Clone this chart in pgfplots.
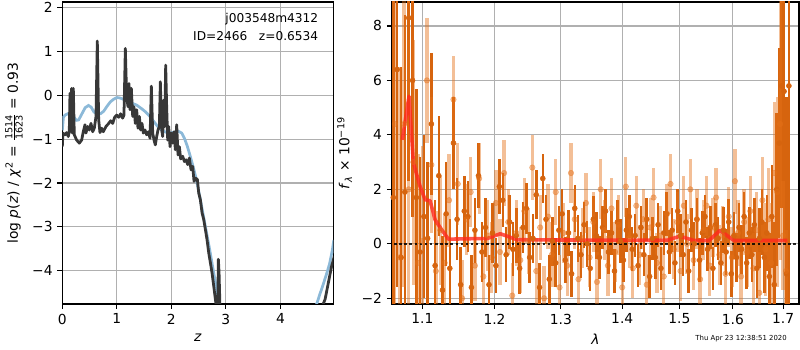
\documentclass[border=0pt]{standalone}
\usepackage{pgfplots}
\usepackage{pgfplotstable}
\usepackage{amsmath}
\usepackage{fontspec}
\setmainfont{DejaVu Sans}
\pgfplotsset{compat=1.18}
\definecolor{gridc}{RGB}{176,176,176}
\definecolor{darko}{RGB}{214,100,14}
\definecolor{lighto}{RGB}{228,112,24}
\definecolor{modelred}{RGB}{255,40,30}
\definecolor{pzblack}{RGB}{55,55,55}
\definecolor{pzblue}{RGB}{140,185,216}

\pgfplotstableread{
x y e
1.062 1.7 7.5
1.067 6.4 8.0
1.072 -0.5 7.0
1.077 1.9 6.5
1.082 8.3 6.0
1.087 6.0 5.0
1.092 1.7 4.0
1.097 -0.3 3.5
1.102 1.0 3.0
1.107 0.2 2.8
1.112 4.4 2.6
1.117 -0.8 2.4
1.122 2.5 2.2
1.127 -1.7 2.0
1.132 1.1 1.9
1.137 -0.9 1.8
1.142 3.7 1.7
1.147 0.9 1.5
1.152 -1.5 1.4
1.157 1.2 1.3
1.162 1.0 1.3
1.167 -1.6 1.2
1.172 0.5 1.2
1.177 2.5 1.2
1.182 -0.3 1.1
1.187 0.6 1.1
1.192 -1.5 1.1
1.197 0.4 1.1
1.202 -0.8 1.0
1.207 2.1 1.0
1.212 1.6 1.0
1.217 -0.4 1.0
1.222 0.8 1.0
1.227 -0.2 1.0
1.232 0.3 1.0
1.237 -0.9 0.95
1.242 0.6 0.95
1.247 1.3 0.95
1.252 -0.5 0.95
1.257 0.2 0.9
1.262 1.8 0.9
1.267 -1.6 0.9
1.272 2.4 0.9
1.277 0.9 0.9
1.282 -1.3 0.9
1.287 0.1 0.9
1.292 -0.7 0.9
1.297 0.5 0.9
1.302 1.1 0.9
1.307 -0.6 0.85
1.312 0.4 0.85
1.317 -1.1 0.85
1.322 1.3 0.85
1.327 0.2 0.85
1.332 -0.4 0.85
1.337 0.7 0.85
1.342 0.0 0.85
1.347 -0.9 0.85
1.352 0.9 0.85
1.357 0.3 0.85
1.362 -0.5 0.8
1.367 0.6 0.8
1.372 1.2 0.8
1.377 -0.3 0.8
1.382 0.4 0.8
1.387 -1.0 0.8
1.392 0.8 0.8
1.397 0.1 0.8
1.402 -0.6 0.8
1.407 0.5 0.8
1.412 1.0 0.8
1.417 -0.2 0.8
1.422 0.3 0.8
1.427 -0.8 0.8
1.432 0.6 0.8
1.437 -0.4 0.8
1.442 0.9 0.8
1.447 -1.2 0.8
1.452 0.2 0.8
1.457 -0.5 0.8
1.462 0.7 0.8
1.467 -0.9 0.8
1.472 0.4 0.8
1.477 1.1 0.8
1.482 -0.3 0.8
1.487 0.5 0.8
1.492 -0.7 0.8
1.497 1.2 0.8
1.502 0.3 0.8
1.507 -0.4 0.8
1.512 0.8 0.8
1.517 -1.0 0.8
1.522 0.5 0.8
1.527 0.0 0.8
1.532 0.9 0.8
1.537 -0.6 0.8
1.542 0.4 0.8
1.547 1.0 0.8
1.552 -0.2 0.8
1.557 0.6 0.8
1.562 -0.9 0.8
1.567 0.7 0.8
1.572 0.2 0.8
1.577 -0.7 0.8
1.582 0.5 0.85
1.587 -0.3 0.85
1.592 0.8 0.85
1.597 -1.1 0.85
1.602 0.3 0.85
1.607 -0.5 0.9
1.612 0.6 0.9
1.617 -0.2 0.9
1.622 1.0 0.9
1.627 -0.7 0.95
1.632 0.4 0.95
1.637 -0.4 1.0
1.642 0.7 1.0
1.647 -0.9 1.1
1.652 0.2 1.1
1.657 0.8 1.2
1.662 -0.5 1.3
1.667 0.4 1.4
1.672 -1.2 1.6
1.677 1.0 1.9
1.682 -1.5 2.3
1.687 2.0 2.8
1.692 3.7 3.5
1.697 5.8 4.5
1.702 5.6 5.5
1.707 -1.1 6.5
1.712 5.8 8.0
}\darktab

\pgfplotstableread{
x y e
1.064 4.4 8
1.070 -0.5 7
1.076 4.4 6
1.082 2.0 5.5
1.088 3.0 4.5
1.094 -0.7 4.0
1.100 0.1 3.5
1.106 6.0 2.3
1.112 2.9 2.5
1.118 -1.0 2.2
1.124 0.5 2.0
1.130 -0.7 1.8
1.136 1.6 1.7
1.142 5.3 1.6
1.148 2.2 1.5
1.154 -2.0 1.4
1.160 0.9 1.3
1.166 1.9 1.3
1.172 -0.8 1.3
1.178 2.4 1.3
1.184 -1.2 1.3
1.190 0.3 1.3
1.196 -0.5 1.3
1.202 1.5 1.2
1.208 -0.3 1.2
1.214 2.6 1.2
1.220 0.8 1.2
1.226 -1.9 1.2
1.232 0.4 1.2
1.238 -0.6 1.2
1.244 1.2 1.2
1.250 0.1 1.2
1.256 2.8 1.2
1.262 -1.0 1.2
1.268 0.6 1.2
1.274 -2.0 1.2
1.280 1.0 1.2
1.286 -0.4 1.2
1.292 1.9 1.2
1.298 -1.6 1.2
1.304 0.4 1.1
1.310 -0.8 1.1
1.316 2.6 1.1
1.322 0.9 1.1
1.328 -1.3 1.1
1.334 0.2 1.1
1.340 1.5 1.1
1.346 -0.5 1.1
1.352 0.8 1.1
1.358 -1.4 1.1
1.364 2.0 1.1
1.370 0.5 1.1
1.376 -0.8 1.1
1.382 1.3 1.1
1.388 -0.3 1.1
1.394 0.7 1.1
1.400 -1.6 1.1
1.406 2.1 1.1
1.412 0.2 1.1
1.418 -0.9 1.1
1.424 1.4 1.1
1.430 -0.4 1.1
1.436 0.9 1.1
1.442 -1.5 1.1
1.448 0.6 1.1
1.454 1.7 1.1
1.460 -0.7 1.1
1.466 0.3 1.1
1.472 -1.2 1.1
1.478 1.1 1.1
1.484 2.2 1.1
1.490 -0.2 1.1
1.496 0.8 1.1
1.502 -1.0 1.1
1.508 1.4 1.1
1.514 0.0 1.1
1.520 2.0 1.1
1.526 -0.6 1.1
1.532 0.9 1.1
1.538 -1.3 1.1
1.544 0.5 1.1
1.550 1.4 1.1
1.556 -0.8 1.1
1.562 0.6 1.1
1.568 1.7 1.1
1.574 -0.4 1.1
1.580 0.3 1.1
1.586 -1.1 1.1
1.592 1.0 1.1
1.598 -0.5 1.1
1.604 2.3 1.2
1.610 0.4 1.2
1.616 -1.2 1.2
1.622 0.8 1.2
1.628 -0.3 1.3
1.634 1.2 1.3
1.640 -0.9 1.3
1.646 0.5 1.4
1.652 -1.8 1.5
1.658 1.6 1.6
1.664 -0.2 1.7
1.670 0.9 1.9
1.676 -0.7 2.2
1.682 2.6 2.6
1.688 1.9 3.5
1.694 4.4 5.0
1.700 0.3 2.0
1.706 -1.0 1.5
}\lighttab

\begin{document}
\begin{tikzpicture}
\useasboundingbox (0,0) rectangle (8in,3.5in);
\pgfplotsset{
  every axis/.append style={
    scale only axis,
    anchor=south west,
    axis line style={line width=0.8pt, black},
    tick align=outside,
    tick pos=left,
    major tick length=3.5pt,
    every tick/.style={line width=0.8pt, black},
    grid=major,
    major grid style={line width=0.8pt, gridc},
    tick label style={font=\fontsize{10}{12}\selectfont},
    label style={font=\fontsize{10}{12}\selectfont},
  }
}
% ---------- left: p(z) ----------
\begin{axis}[
  at={(0.623in,0.46in)},
  width=2.71in, height=3.02in,
  xmin=0, xmax=4.97, ymin=-4.76, ymax=2.13,
  xtick={0,1,2,3,4},
  xticklabels={0,1,2,3,4},
  ytick={-4,-3,-2,-1,0,1,2},
  yticklabels={−4,−3,−2,−1,0,1,2},
  xlabel={\textit{z}},
  ylabel={log \textit{p}(\textit{z}) / \textit{χ}$^{\text{2}}$ = $\frac{\text{1514}}{\text{1623}}$ = 0.93},
  clip=true,
]
\addplot[pzblue, line width=2pt] coordinates {
(0.000,-0.80) (0.02,-0.50) (0.05,-0.45) (0.10,-0.42) (0.15,-0.40) (0.20,-0.48)
(0.26,-0.57) (0.30,-0.56) (0.36,-0.42) (0.42,-0.28) (0.48,-0.23) (0.53,-0.27)
(0.58,-0.38) (0.63,-0.42) (0.70,-0.42) (0.76,-0.36) (0.82,-0.25) (0.88,-0.15)
(0.94,-0.09) (1.00,-0.05) (1.06,-0.06) (1.12,-0.09) (1.20,-0.13) (1.28,-0.18)
(1.36,-0.22) (1.44,-0.29) (1.52,-0.37) (1.60,-0.47) (1.68,-0.60) (1.75,-0.71)
(1.82,-0.79) (1.90,-0.84) (1.97,-0.86) (2.05,-0.84) (2.13,-0.82) (2.19,-0.86)
(2.24,-0.98) (2.29,-1.15) (2.34,-1.36) (2.40,-1.63) (2.46,-1.93) (2.52,-2.30)
(2.58,-2.70) (2.64,-3.10) (2.70,-3.50) (2.76,-3.93) (2.82,-4.35) (2.88,-4.78)
(2.92,-5.10)
};
\addplot[pzblue, line width=2pt] coordinates {
(4.62,-5.05) (4.66,-4.78) (4.72,-4.55) (4.78,-4.33) (4.84,-4.10) (4.90,-3.85) (4.95,-3.55) (4.98,-3.30)
};
\addplot[pzblack, line width=2pt, line join=round] coordinates {
(0.000,-1.17) (0.012,-0.86) (0.049,-0.90) (0.080,-0.85) (0.110,-0.94) (0.128,-0.83)
(0.141,0.05) (0.153,-0.79) (0.171,0.16) (0.183,-0.86) (0.202,0.16) (0.220,-0.90)
(0.263,-1.02) (0.312,-1.09) (0.355,-1.02) (0.385,-0.83) (0.416,-0.67) (0.434,-0.86)
(0.465,-0.71) (0.495,-0.79) (0.526,-0.64) (0.557,-0.83) (0.587,-0.75) (0.618,-0.48)
(0.642,1.24) (0.667,-0.56) (0.691,-0.85) (0.722,-0.75) (0.752,-0.83) (0.801,-0.71)
(0.844,-0.65) (0.887,-0.58) (0.924,-0.64) (0.960,-0.50) (0.997,-0.45) (1.034,-0.50)
(1.070,-0.42) (1.107,-0.52) (1.131,-0.45) (1.156,1.07) (1.180,-0.03) (1.205,-0.26)
(1.223,0.27) (1.242,-0.33) (1.266,0.16) (1.291,-0.48) (1.315,-0.26) (1.339,-0.64)
(1.364,-0.33) (1.388,-0.75) (1.413,-0.48) (1.437,-0.79) (1.462,-0.64) (1.486,-0.86)
(1.517,-0.79) (1.547,-0.90) (1.578,-0.83) (1.609,-0.98) (1.633,0.21) (1.658,-0.86)
(1.682,-1.02) (1.706,-1.13) (1.731,-0.94) (1.755,-0.79) (1.780,-0.71) (1.798,0.31)
(1.823,-0.79) (1.841,-0.94) (1.859,-0.11) (1.878,-0.71) (1.896,0.69) (1.914,-0.26)
(1.933,-1.02) (1.951,-0.71) (1.976,-1.17) (2.000,-0.86) (2.024,-1.09) (2.049,-0.83)
(2.073,-1.24) (2.098,-0.67) (2.122,-1.36) (2.147,-1.17) (2.171,-1.45) (2.208,-1.39)
(2.239,-1.51) (2.269,-1.47) (2.300,-1.58) (2.330,-1.43) (2.361,-1.70) (2.391,-1.62)
(2.416,-1.96) (2.446,-1.89) (2.477,-1.92) (2.502,-2.23) (2.532,-2.38) (2.563,-2.68)
(2.593,-2.83) (2.624,-3.06) (2.654,-3.29) (2.685,-3.59) (2.716,-3.82) (2.746,-4.05)
(2.777,-4.35) (2.807,-4.65) (2.832,-4.90) (2.850,-4.90) (2.862,-3.74) (2.875,-4.05)
(2.893,-4.90)
};
\addplot[pzblack, line width=2pt] coordinates {
(4.72,-5.00) (4.76,-4.84) (4.82,-4.65) (4.88,-4.27) (4.94,-3.89) (4.99,-3.67)
};
\node[anchor=north east, align=right, inner sep=0pt, font=\fontsize{8.8}{13.2}\selectfont]
  at (axis description cs:0.945,0.963) {j003548m4312\\ID=2466\hspace{0.95em}z=0.6534};
\end{axis}

% ---------- right: spectrum ----------
\begin{axis}[
  at={(3.917in,0.46in)},
  width=4.073in, height=3.02in,
  xmode=log, xminorticks=false,
  xmin=1.060, xmax=1.733, ymin=-2.21, ymax=8.88,
  xtick={1.1,1.2,1.3,1.4,1.5,1.6,1.7},
  xticklabels={1.1,1.2,1.3,1.4,1.5,1.6,1.7},
  ytick={-2,0,2,4,6,8},
  yticklabels={−2,0,2,4,6,8},
  xlabel={\textit{λ}},
  ylabel={\textit{f}$_{\text{\textit{λ}}}$ × 10$^{\text{−19}}$},
  clip=true,
]
\addplot[only marks, mark=*, mark size=1.8pt, color=darko,
  error bars/.cd, y dir=both, y explicit, error mark=none,
  error bar style={line width=1.8pt, darko}]
  table[x=x, y=y, y error=e] {\darktab};
\addplot[only marks, mark=*, mark size=2pt, color=lighto, opacity=0.45,
  error bars/.cd, y dir=both, y explicit, error mark=none,
  error bar style={line width=2.4pt, lighto, opacity=0.45}]
  table[x=x, y=y, y error=e] {\lighttab};
\addplot[modelred, line width=2.6pt, opacity=0.8, line join=round] coordinates {
(1.0737,3.82) (1.0824,5.42) (1.0881,2.97) (1.0969,2.11) (1.1036,1.62) (1.1103,1.58)
(1.117,0.88) (1.1261,0.51) (1.1351,0.17) (1.170,0.19) (1.189,0.19) (1.2084,0.37)
(1.233,0.15) (1.294,0.14) (1.478,0.13) (1.501,0.28) (1.5266,0.12) (1.5545,0.12)
(1.5752,0.49) (1.6022,0.12) (1.709,0.12)
};
\addplot[black, opacity=0.85, line width=1.8pt, dash pattern=on 1.8pt off 1.9pt] coordinates {(1.05,0) (1.75,0)};
\end{axis}
\node[anchor=south east, inner sep=0pt, font=\fontsize{5}{6}\selectfont] at (7.87in,0.08in) {Thu Apr 23 12:38:51 2020};
\end{tikzpicture}
\end{document}
